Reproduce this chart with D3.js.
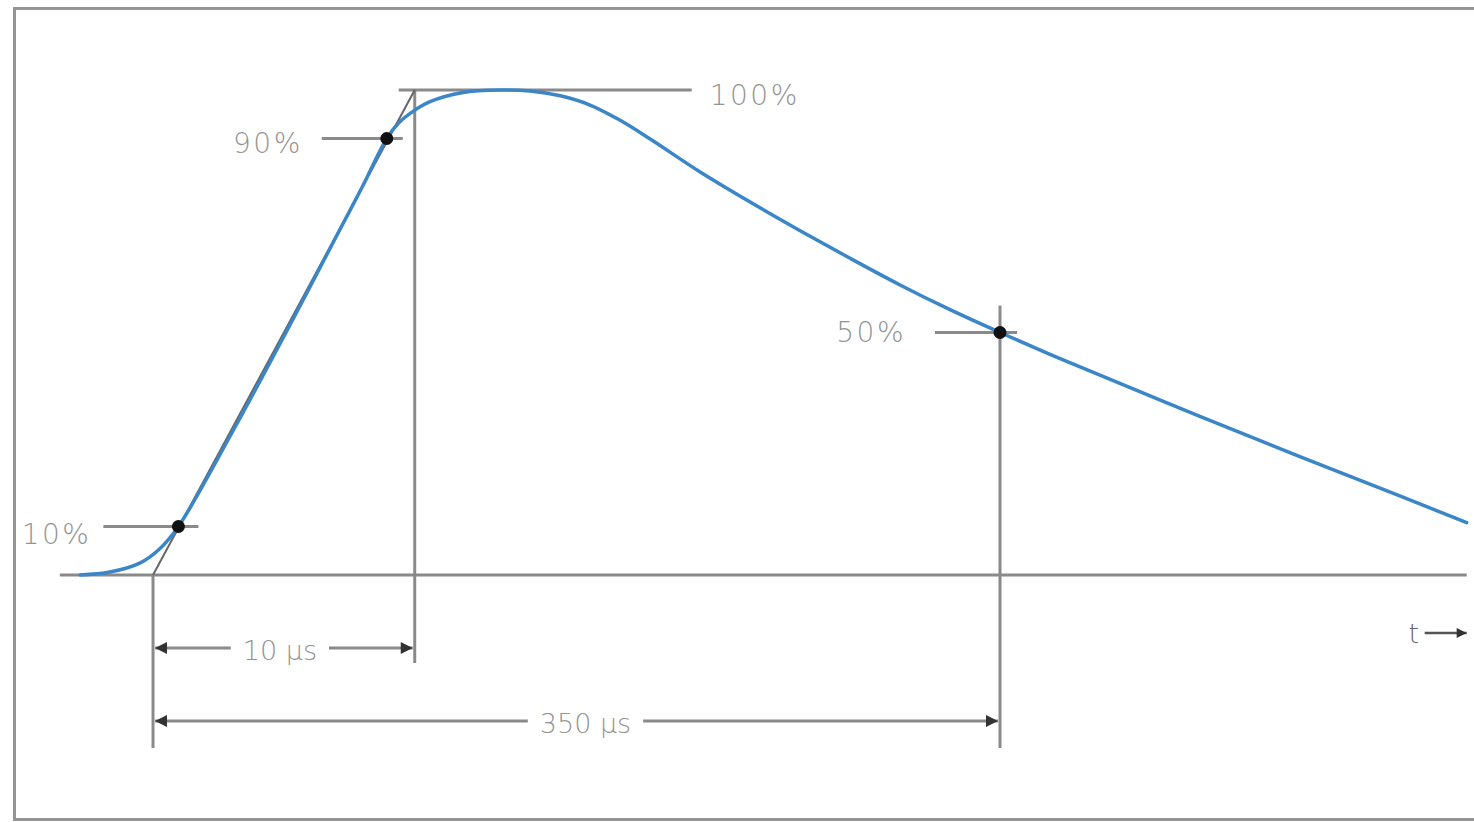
<!DOCTYPE html>
<html>
<head>
<meta charset="utf-8">
<script src="https://cdn.jsdelivr.net/npm/d3@7"></script>
<style>
  html, body { margin: 0; padding: 0; background: #ffffff; }
  svg { display: block; }
</style>
</head>
<body>
<div id="chart"></div>
<script>
// schematic time units: virtual origin O1 = 0, half-value point = 100
const waveTime = [-8.6, -5.1, -1.5, 0.8, 3.0, 9.5, 15.7, 21.7, 24.7, 27.6, 29.0, 30.7, 32.7, 36.6, 41.0, 44.5, 48.1, 51.6, 55.1, 58.7, 64.6, 70.5, 76.4, 82.3, 88.2, 94.1, 100, 105.9, 111.8, 123.6, 135.4, 147.2, 155.1];
const waveLevel = [0, 0.6, 2.5, 5.4, 10, 29.9, 50, 70, 80, 90, 93.2, 95.6, 97.6, 99.5, 100, 99.8, 98.8, 96.9, 93.8, 89.9, 83.1, 76.9, 71.0, 65.3, 59.8, 54.7, 50, 45.5, 41.2, 32.7, 24.4, 16.3, 10.8];

const markerTime = [3.0, 27.6, 100];
const markerLevel = [10, 90, 50];
const markerLabels = ["10%", "90%", "50%"];

const peakLevel = 100;
const peakLabel = "100%";

const virtualOrigin = 0;
const frontTime = 30.9;
const halfTime = 100;
const dimensionLabels = ["10 µs", "350 µs"];

const baselineStart = -11;
const baselineEnd = 155.1;

const COLORS = {
    frame: "#959595",
    guide: "#8a8a8a",
    tangent: "#666666",
    wave: "#3a86c8",
    marker: "#111111",
    text: "#949494",
    arrow: "#333333",
};

const width = 1474;
const height = 822;

const svg = d3.select("#chart")
    .append("svg")
    .attr("width", width)
    .attr("height", height);

const x = d3.scaleLinear().domain([0, 100]).range([153, 1000]);
const y = d3.scaleLinear().domain([0, 100]).range([575, 90]);

const defs = svg.append("defs");
defs.append("marker")
    .attr("id", "arrow")
    .attr("viewBox", "0 0 10 10")
    .attr("refX", 10)
    .attr("refY", 5)
    .attr("markerWidth", 5.5)
    .attr("markerHeight", 4)
    .attr("markerUnits", "strokeWidth")
    .attr("orient", "auto-start-reverse")
    .append("path")
    .attr("d", "M0,0 L10,5 L0,10 Z")
    .attr("fill", COLORS.arrow);

// frame (right side runs off the picture)
svg.append("path")
    .attr("d", `M${width + 5},8.5 L14.5,8.5 L14.5,819.5 L${width + 5},819.5`)
    .attr("fill", "none")
    .attr("stroke", COLORS.frame)
    .attr("stroke-width", 3);

const guides = svg.append("g")
    .attr("stroke", COLORS.guide)
    .attr("stroke-width", 3)
    .attr("fill", "none");

// baseline
guides.append("line")
    .attr("x1", x(baselineStart)).attr("x2", x(baselineEnd))
    .attr("y1", y(0)).attr("y2", y(0));

// 100% level line
guides.append("line")
    .attr("x1", x(frontTime) - 16).attr("x2", x(frontTime) + 277)
    .attr("y1", y(peakLevel)).attr("y2", y(peakLevel));

// extension lines
guides.append("line")
    .attr("x1", x(virtualOrigin)).attr("x2", x(virtualOrigin))
    .attr("y1", y(0)).attr("y2", y(0) + 173);
guides.append("line")
    .attr("x1", x(frontTime)).attr("x2", x(frontTime))
    .attr("y1", y(peakLevel)).attr("y2", y(0) + 88);
guides.append("line")
    .attr("x1", x(halfTime)).attr("x2", x(halfTime))
    .attr("y1", y(50) - 27).attr("y2", y(0) + 173);

// level ticks at the marker points
const tickLeft = [75, 65, 65];
const tickRight = [20, 16, 17];
markerTime.forEach((t, i) => {
    guides.append("line")
        .attr("x1", x(t) - tickLeft[i]).attr("x2", x(t) + tickRight[i])
        .attr("y1", y(markerLevel[i])).attr("y2", y(markerLevel[i]));
});

// front tangent through the 10% and 90% points
svg.append("line")
    .attr("x1", x(virtualOrigin)).attr("y1", y(0))
    .attr("x2", x(frontTime)).attr("y2", y(peakLevel))
    .attr("stroke", COLORS.tangent)
    .attr("stroke-width", 2);

// waveform
const wave = waveTime.map((t, i) => ({ t, v: waveLevel[i] }));
svg.append("path")
    .datum(wave)
    .attr("d", d3.line().x((d) => x(d.t)).y((d) => y(d.v)).curve(d3.curveCatmullRom.alpha(0.5)))
    .attr("fill", "none")
    .attr("stroke", COLORS.wave)
    .attr("stroke-width", 3.5)
    .attr("stroke-linecap", "round");

// marker dots
svg.append("g")
    .selectAll("circle")
    .data(markerTime)
    .enter()
    .append("circle")
    .attr("cx", (t) => x(t))
    .attr("cy", (t, i) => y(markerLevel[i]))
    .attr("r", 6.5)
    .attr("fill", COLORS.marker);

const textStyle = (sel) => sel
    .attr("fill", COLORS.text)
    .attr("font-family", "'DejaVu Sans', 'Open Sans', sans-serif")
    .attr("font-weight", 200)
    .attr("font-size", 27)
    .attr("dominant-baseline", "central");

// level labels
const labelGap = [12, 19, 29];
const labelDy = [8, 5, 0];
markerTime.forEach((t, i) => {
    svg.append("text")
        .attr("x", x(t) - tickLeft[i] - labelGap[i])
        .attr("y", y(markerLevel[i]) + labelDy[i])
        .attr("text-anchor", "end")
        .call(textStyle)
        .attr("font-size", 28)
        .attr("letter-spacing", 2.5)
        .text(markerLabels[i]);
});

svg.append("text")
    .attr("x", x(frontTime) + 295)
    .attr("y", y(peakLevel) + 5)
    .attr("text-anchor", "start")
    .call(textStyle)
    .attr("font-size", 28)
    .attr("letter-spacing", 2.5)
    .text(peakLabel);

// dimension lines with a gap for the label
function dimension(t0, t1, yPos, label, shift) {
    const cx = (x(t0) + x(t1)) / 2 + shift;
    const txt = svg.append("text")
        .attr("x", cx)
        .attr("y", yPos + 2)
        .attr("text-anchor", "middle")
        .call(textStyle)
        .text(label);
    const box = txt.node().getBBox();
    const g = svg.append("g")
        .attr("stroke", COLORS.guide)
        .attr("stroke-width", 3);
    g.append("line")
        .attr("x1", box.x - 12).attr("x2", x(t0) + 2)
        .attr("y1", yPos).attr("y2", yPos)
        .attr("marker-end", "url(#arrow)");
    g.append("line")
        .attr("x1", box.x + box.width + 12).attr("x2", x(t1) - 2)
        .attr("y1", yPos).attr("y2", yPos)
        .attr("marker-end", "url(#arrow)");
}

dimension(virtualOrigin, frontTime, y(0) + 73, dimensionLabels[0], -4);
dimension(virtualOrigin, halfTime, y(0) + 146, dimensionLabels[1], 9);

// time axis hint
svg.append("text")
    .attr("x", x(baselineEnd) - 53)
    .attr("y", y(0) + 58)
    .attr("text-anchor", "middle")
    .call(textStyle)
    .attr("fill", "#666666")
    .text("t");
svg.append("line")
    .attr("x1", x(baselineEnd) - 42).attr("x2", x(baselineEnd))
    .attr("y1", y(0) + 58).attr("y2", y(0) + 58)
    .attr("stroke", "#555555")
    .attr("stroke-width", 2.5)
    .attr("marker-end", "url(#arrow)");
</script>
</body>
</html>
